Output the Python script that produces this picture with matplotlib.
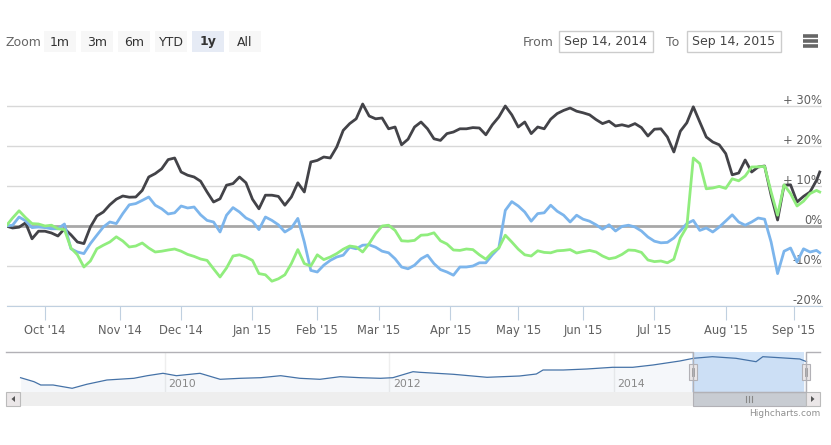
import numpy as np
import matplotlib
matplotlib.use('Agg')
from matplotlib import pyplot as plt
from matplotlib.patches import Rectangle
from matplotlib.transforms import blended_transform_factory

# trading calendar of the visible year (ordinal axis, weekends/holidays skipped)
start, end = '2014-09-15', '2015-09-15'
holidays = ['2014-11-27', '2014-12-25', '2015-01-01', '2015-01-19', '2015-02-16',
            '2015-04-03', '2015-05-25', '2015-07-03', '2015-09-07']

# values (% change) read every 2nd trading day, last one on the final day
black = [0, -0.5, -0.3, 0.8, -3.2, -1.3, -1.3, -1.75, -2.5, -0.7,
         -2.2, -4, -4.4, -0.25, 2.5, 3.5, 5.3, 6.7, 7.5, 7.2,
         7.25, 8.9, 12.25, 13.1, 14.3, 16.6, 17, 13.5, 12.7, 12.25,
         11.2, 8.5, 6, 6.8, 10.2, 10.6, 12.25, 10.8, 6.7, 4.3,
         7.7, 7.7, 7.4, 5.2, 7.25, 10.8, 8.5, 16, 16.4, 17.25,
         17, 19.75, 23.9, 25.6, 26.8, 30.5, 27.5, 26.8, 27, 24.3,
         24.75, 20.3, 21.7, 24.75, 26, 24.3, 21.8, 21.4, 23.1, 23.5,
         24.3, 24.3, 24.6, 24.5, 22.8, 25.3, 27.25, 30, 27.8, 24.75,
         26, 23.1, 24.75, 24.3, 26.7, 28.1, 28.9, 29.5, 28.7, 28.3,
         27.8, 26.6, 25.6, 26.2, 25, 25.3, 24.9, 25.6, 24.6, 22.5,
         24.2, 24.3, 22.25, 18.5, 23.7, 25.8, 29.8, 26, 22.25, 21,
         20.3, 18.1, 12.8, 13.25, 16.5, 13.5, 14.75, 15, 7.7, 1.5,
         10.2, 10.3, 6, 7.4, 8.5, 11.4, 13.5]
blue = [0, 0.2, 2.25, 1.3, -0.4, -0.25, -0.4, -0.7, -0.7, 0.5,
        -5.7, -6.5, -6.9, -4.4, -2.3, -0.25, 1, 0.6, 3.1, 5.3,
        5.6, 6.4, 7.25, 5.2, 4.3, 3, 3.3, 5, 4.5, 4.75,
        2.8, 1.4, 1, -1.5, 2.7, 4.6, 3.5, 2, 1.2, -0.9,
        2.25, 1.4, 0.3, -1.5, -0.5, 1.9, -4, -11.1, -11.5, -9.8,
        -8.6, -7.75, -7.3, -5.3, -5.7, -4.8, -4.7, -5.3, -6.3, -6.7,
        -8.2, -10.25, -10.7, -9.8, -8.2, -7.3, -9.4, -10.9, -11.5, -12.3,
        -10.25, -10.25, -10, -9.2, -9.2, -7.2, -5.5, 3.9, 6.1, 5,
        3.5, 1.2, 3.1, 3.3, 5.2, 3.7, 2.7, 1, 2.7, 1.7,
        1.2, 0.3, -0.8, 0.3, -1.25, -0.1, 0.2, -0.25, -1.25, -2.75,
        -3.8, -4.2, -4.1, -3, -1.2, 0.6, 1.4, -1.1, -0.5, -1.5,
        -0.25, 1.25, 2.8, 1, 0.2, 1, 2, 1.7, -4, -11.9,
        -6.3, -5.5, -9, -5.7, -6.5, -6.1, -6.7]
green = [0, 2, 3.8, 2.1, 0.6, 0.5, 0, 0.2, -0.7, -0.9,
         -5.5, -7.2, -10.25, -8.75, -5.7, -4.8, -4, -2.7, -3.75, -5.25,
         -5, -4.25, -5.5, -6.5, -6.3, -6, -5.75, -6.3, -7.1, -7.6,
         -8.25, -8.6, -10.7, -12.75, -10.5, -7.5, -7.2, -7.75, -8.6, -11.9,
         -12.2, -13.8, -13.2, -12.2, -9.4, -5.9, -9.4, -10, -7.2, -8.4,
         -7.75, -6.9, -5.8, -5, -5.25, -6.5, -4.4, -1.9, 0, 0.2,
         -1.1, -3.7, -3.8, -3.6, -2.3, -2.2, -1.7, -3.7, -4.5, -6,
         -6.1, -5.75, -5.9, -7.2, -8.3, -6.6, -5.5, -2.3, -4, -5.8,
         -7.2, -7.5, -6.2, -6.6, -6.7, -6.2, -6.1, -5.9, -6.75, -6.4,
         -6.1, -6.5, -7.5, -8.2, -7.9, -7.1, -6, -6.1, -6.6, -8.5,
         -8.9, -8.75, -9.2, -8.3, -3, -0.2, 17, 15.6, 9.3, 9.5,
         9.9, 9.4, 11.8, 11.3, 12.5, 14.75, 14.8, 14.9, 8.5, 2.7,
         10.3, 8.1, 5, 6.2, 8.1, 8.9, 8.5]

y_ticks = [30, 20, 10, 0, -10, -20]
y_labels = ['+ 30%', '+ 20%', '+ 10%', '0%', '-10%', '-20%']
month_labels = ["Oct '14", "Nov '14", "Dec '14", "Jan '15", "Feb '15", "Mar '15",
                "Apr '15", "May '15", "Jun '15", "Jul '15", "Aug '15", "Sep '15"]

# navigator: whole history (decimal year, level)
nav_year = [2008.71, 2008.83, 2008.89, 2009.0, 2009.17, 2009.30, 2009.48, 2009.72,
            2009.84, 2009.98, 2010.10, 2010.31, 2010.49, 2010.67, 2010.85, 2011.03,
            2011.20, 2011.38, 2011.56, 2011.74, 2011.92, 2012.03, 2012.21, 2012.27,
            2012.57, 2012.87, 2013.16, 2013.31, 2013.37, 2013.55, 2013.76, 2013.99,
            2014.17, 2014.35, 2014.59, 2014.71, 2014.88, 2015.09, 2015.27, 2015.33,
            2015.48, 2015.66, 2015.72]
nav_level = [14.3, 10.3, 7.0, 7.0, 3.7, 7.7, 12.0, 13.7, 16.3, 18.7, 16.3, 18.7,
             12.7, 13.7, 14.3, 16.3, 13.7, 12.7, 15.3, 14.3, 13.7, 14.3, 20.3, 19.7,
             17.7, 14.7, 16.0, 18.0, 22.0, 22.0, 23.0, 24.7, 24.7, 27.0, 31.0, 33.7,
             35.3, 33.7, 30.3, 35.3, 34.3, 33.0, 30.3]
nav_years = [2010, 2012, 2014]
sel_from, sel_to = 2014.70, 2015.70

W, H = 831, 445
fig = plt.figure(figsize=(W / 100, H / 100), dpi=100)
fig.patch.set_facecolor('white')
plt.rcParams['font.family'] = ['DejaVu Sans']


def px_axes(x0, y0, x1, y1, **kw):
    return fig.add_axes([x0 / W, 1 - y1 / H, (x1 - x0) / W, (y1 - y0) / H], **kw)


days = np.arange(start, end, dtype='datetime64[D]')
tdays = days[np.is_busday(days, holidays=holidays)]
idx = list(range(0, len(tdays) - 1, 2)) + [len(tdays) - 1]
months = tdays.astype('datetime64[M]')
month_pos = [i for i in range(1, len(tdays)) if months[i] != months[i - 1]]

# ---- main chart
ax = px_axes(7, 96, 822, 306)
ax.set_xlim(0.28, 251.7)
ax.set_ylim(-20, 32.5)
for v in y_ticks:
    if v == 0:
        ax.axhline(v, color='#a8a8a8', lw=2, zorder=1)
    else:
        ax.axhline(v, color='#d8d8d8', lw=1, zorder=1)
ax.plot(idx, black, color='#434348', lw=2, zorder=3)
ax.plot(idx, blue, color='#7cb5ec', lw=2, zorder=3)
ax.plot(idx, green, color='#90ed7d', lw=2, zorder=3)
tr = blended_transform_factory(ax.transAxes, ax.transData)
for v, lab in zip(y_ticks, y_labels):
    ax.text(1.0, v + 1.5, lab, transform=tr, ha='right', va='center',
            fontsize=8.3, color='#606060', zorder=2)
for s in ['top', 'left', 'right']:
    ax.spines[s].set_visible(False)
ax.spines['bottom'].set_color('#c0d0e0')
ax.set_xticks(month_pos)
ax.set_xticklabels(month_labels, fontsize=8.3, color='#606060')
ax.tick_params(axis='x', length=10, color='#c0d0e0', pad=3)
ax.set_yticks([])

# ---- navigator
nav = px_axes(6, 352, 820, 392)
nav.set_xlim(2008.58, 2015.84)
nav.set_ylim(0, 40)
nav.fill_between(nav_year, nav_level, 0, color='#4572a7', alpha=0.05, lw=0)
nav.plot(nav_year, nav_level, color='#4572a7', lw=0.9)
for yr in nav_years:
    nav.axvline(yr, color='#eeeeee', lw=1, zorder=0)
    nav.text(yr + 0.03, 8, str(yr), fontsize=7.8, color='#888888', va='center')
nav.axvspan(sel_from, sel_to, color='#80b3ec', alpha=0.35, lw=0)
nav.axis('off')

# ---- UI overlay in pixels
ui = fig.add_axes([0, 0, 1, 1], zorder=5)
ui.set_xlim(0, W)
ui.set_ylim(H, 0)
ui.axis('off')

ui.text(6, 42, 'Zoom', fontsize=9, color='#666666', va='center')
buttons = [('1m', 44), ('3m', 81), ('6m', 118), ('YTD', 155), ('1y', 192), ('All', 229)]
for lab, bx in buttons:
    sel = lab == '1y'
    ui.add_patch(Rectangle((bx, 31), 32, 21, color='#e6ebf5' if sel else '#f7f7f7', lw=0))
    ui.text(bx + 16, 42, lab, fontsize=9, ha='center', va='center', color='#333333',
            fontweight='bold' if sel else 'normal')

ui.text(523, 42, 'From', fontsize=9, color='#666666', va='center')
ui.add_patch(Rectangle((559, 31), 94, 21, fc='white', ec='#cccccc', lw=1))
ui.text(606, 42, 'Sep 14, 2014', fontsize=9, color='#444444', ha='center', va='center')
ui.text(666, 42, 'To', fontsize=9, color='#666666', va='center')
ui.add_patch(Rectangle((687, 31), 94, 21, fc='white', ec='#cccccc', lw=1))
ui.text(734, 42, 'Sep 14, 2015', fontsize=9, color='#444444', ha='center', va='center')
for by in (36.2, 41.2, 46.2):
    ui.plot([803, 818], [by, by], color='#666666', lw=2.6, solid_capstyle='butt')

# navigator outline
ui.plot([6, 693, 693, 806, 806, 820], [352, 352, 392, 392, 352, 352], color='#b2b1b6', lw=1)
# scrollbar
ui.add_patch(Rectangle((20, 392), 786, 14, fc='#eeeeee', lw=0))
ui.add_patch(Rectangle((693, 392), 113, 14, fc='#c8ccd2', ec='#b2b1b6', lw=0.8))
for gx in (746, 749, 752):
    ui.plot([gx, gx], [396, 402], color='#888888', lw=0.8)
for bx, tri in ((6, [(15, 396), (15, 402), (11.5, 399)]), (806, [(811, 396), (811, 402), (814.5, 399)])):
    ui.add_patch(Rectangle((bx, 392), 14, 14, fc='#ebe7e8', ec='#bbbbbb', lw=0.8))
    ui.add_patch(plt.Polygon(tri, color='#555555', lw=0))
# handles
for hx in (693, 806):
    ui.add_patch(Rectangle((hx - 4, 364), 8, 16, fc='#ebe7e8', ec='#b2b1b6', lw=0.8))
    for gx in (hx - 1.2, hx + 1.2):
        ui.plot([gx, gx], [368, 376], color='#999999', lw=0.6)

ui.text(820, 413, 'Highcharts.com', fontsize=6.5, color='#909090', ha='right', va='center')

fig.savefig('out.png', dpi=100)
